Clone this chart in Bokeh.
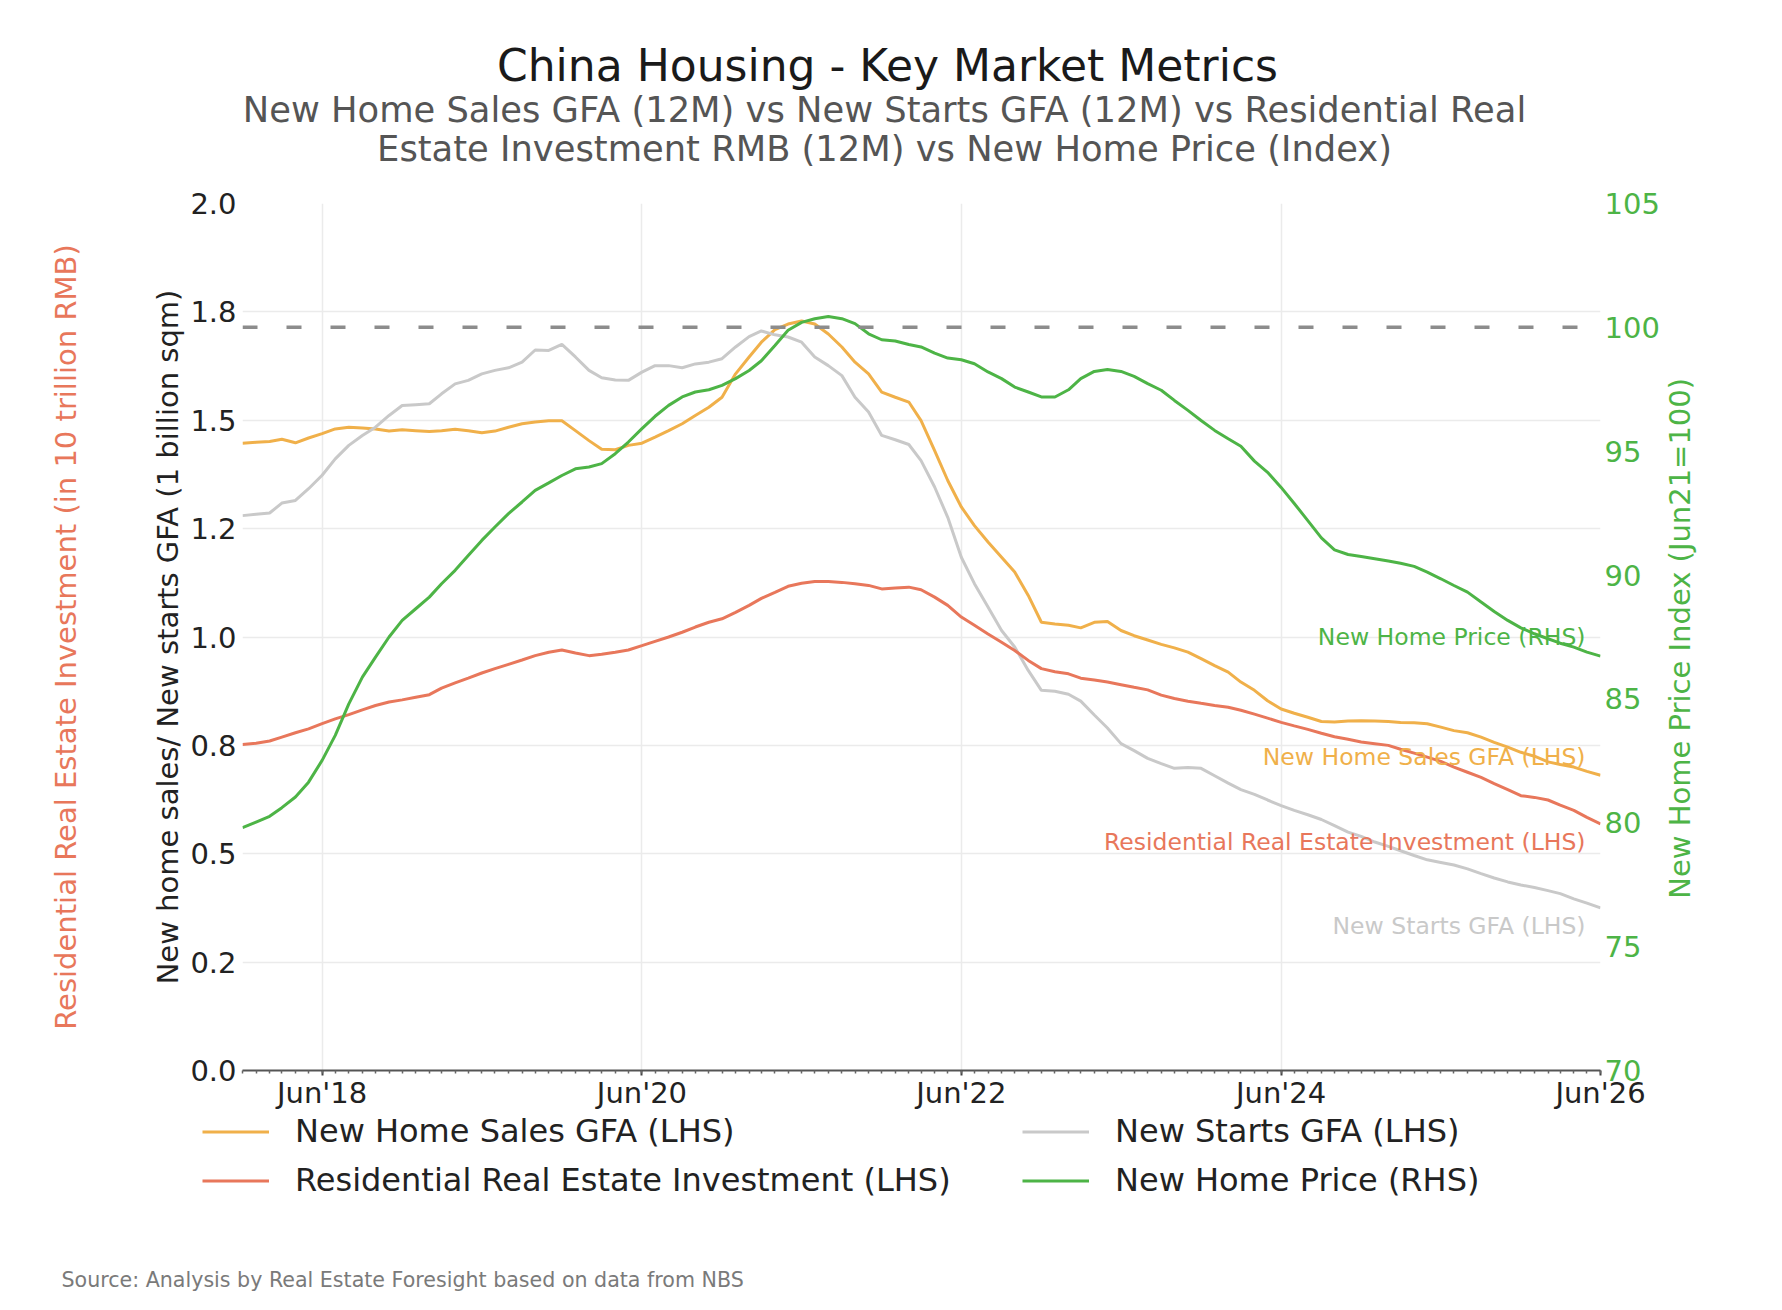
from math import pi
import pandas as pd
from bokeh.plotting import figure
from bokeh.layouts import column, row
from bokeh.models import (Range1d, LinearAxis, FixedTicker, DatetimeTickFormatter,
                          Label, Span, Legend, LegendItem, ColumnDataSource)
from bokeh.embed import file_html
from bokeh.resources import INLINE

# ---------------- data ----------------
months = list(pd.date_range("2017-12-01", "2026-06-01", freq="MS"))

new_home_sales_gfa = [
    1.447, 1.449, 1.451, 1.456, 1.448, 1.459, 1.469, 1.480, 1.484, 1.482,
    1.480, 1.475, 1.478, 1.476, 1.474, 1.476, 1.479, 1.476, 1.471, 1.475,
    1.484, 1.492, 1.496, 1.499, 1.499, 1.476, 1.453, 1.433, 1.432, 1.442,
    1.447, 1.461, 1.476, 1.492, 1.511, 1.530, 1.553, 1.607, 1.646, 1.680,
    1.709, 1.722, 1.729, 1.722, 1.699, 1.669, 1.634, 1.607, 1.565, 1.553,
    1.542, 1.499, 1.430, 1.361, 1.300, 1.257, 1.219, 1.184, 1.150, 1.096,
    1.034, 1.030, 1.027, 1.021, 1.034, 1.036, 1.015, 1.003, 0.993, 0.983,
    0.975, 0.965, 0.950, 0.934, 0.919, 0.896, 0.877, 0.853, 0.834, 0.824,
    0.815, 0.805, 0.804, 0.806, 0.807, 0.806, 0.805, 0.803, 0.802, 0.800,
    0.792, 0.784, 0.779, 0.769, 0.757, 0.746, 0.734, 0.725, 0.712, 0.706,
    0.700, 0.690, 0.681]

new_starts_gfa = [
    1.280, 1.283, 1.286, 1.309, 1.315, 1.342, 1.373, 1.411, 1.442, 1.465,
    1.484, 1.511, 1.534, 1.536, 1.538, 1.561, 1.584, 1.592, 1.607, 1.615,
    1.621, 1.634, 1.662, 1.661, 1.675, 1.646, 1.615, 1.598, 1.593, 1.592,
    1.611, 1.626, 1.626, 1.621, 1.630, 1.634, 1.642, 1.669, 1.693, 1.706,
    1.697, 1.692, 1.680, 1.646, 1.626, 1.603, 1.553, 1.519, 1.465, 1.455,
    1.444, 1.407, 1.346, 1.276, 1.184, 1.123, 1.069, 1.015, 0.977, 0.923,
    0.877, 0.875, 0.868, 0.852, 0.820, 0.790, 0.754, 0.738, 0.720, 0.708,
    0.697, 0.699, 0.697, 0.680, 0.663, 0.648, 0.637, 0.624, 0.611, 0.600,
    0.590, 0.579, 0.565, 0.550, 0.540, 0.527, 0.517, 0.507, 0.496, 0.486,
    0.480, 0.474, 0.465, 0.454, 0.444, 0.435, 0.428, 0.422, 0.415, 0.408,
    0.396, 0.386, 0.375]

residential_investment = [
    0.752, 0.755, 0.760, 0.769, 0.779, 0.788, 0.800, 0.811, 0.821, 0.832,
    0.842, 0.850, 0.855, 0.861, 0.867, 0.882, 0.894, 0.905, 0.917, 0.927,
    0.937, 0.947, 0.957, 0.965, 0.970, 0.963, 0.957, 0.960, 0.965, 0.970,
    0.980, 0.990, 1.000, 1.011, 1.023, 1.034, 1.042, 1.057, 1.073, 1.089,
    1.103, 1.117, 1.124, 1.128, 1.128, 1.126, 1.123, 1.119, 1.111, 1.113,
    1.115, 1.109, 1.092, 1.073, 1.046, 1.027, 1.007, 0.988, 0.969, 0.946,
    0.927, 0.920, 0.915, 0.905, 0.901, 0.896, 0.890, 0.884, 0.878, 0.866,
    0.858, 0.852, 0.847, 0.842, 0.838, 0.831, 0.822, 0.813, 0.803, 0.795,
    0.787, 0.778, 0.770, 0.764, 0.758, 0.754, 0.750, 0.741, 0.732, 0.723,
    0.713, 0.700, 0.688, 0.676, 0.662, 0.648, 0.634, 0.630, 0.624, 0.612,
    0.600, 0.584, 0.569]

new_home_price_index = [
    79.80, 80.03, 80.26, 80.61, 81.04, 81.64, 82.52, 83.53, 84.80, 85.88,
    86.69, 87.50, 88.17, 88.64, 89.11, 89.65, 90.19, 90.79, 91.40, 91.94,
    92.48, 92.95, 93.42, 93.72, 94.02, 94.29, 94.36, 94.50, 94.90, 95.37,
    95.91, 96.41, 96.85, 97.19, 97.39, 97.48, 97.66, 97.93, 98.26, 98.65,
    99.27, 99.88, 100.20, 100.35, 100.44, 100.35, 100.15, 99.74, 99.50, 99.45,
    99.31, 99.21, 98.96, 98.76, 98.69, 98.53, 98.20, 97.93, 97.59, 97.39,
    97.19, 97.19, 97.48, 97.93, 98.22, 98.30, 98.22, 98.02, 97.73, 97.46,
    97.05, 96.65, 96.24, 95.84, 95.50, 95.20, 94.60, 94.15, 93.54, 92.89,
    92.20, 91.50, 91.02, 90.83, 90.75, 90.66, 90.57, 90.48, 90.35, 90.12,
    89.85, 89.58, 89.31, 88.91, 88.53, 88.17, 87.87, 87.63, 87.43, 87.25,
    87.09, 86.89, 86.73]

left_ticks = [0.0, 0.25, 0.5, 0.75, 1.0, 1.25, 1.5, 1.75, 2.0]
left_tick_labels = ["0.0", "0.2", "0.5", "0.8", "1.0", "1.2", "1.5", "1.8", "2.0"]
right_ticks = [70, 75, 80, 85, 90, 95, 100, 105]
x_tick_years = [2018, 2020, 2022, 2024, 2026]
reference_level = 100

series_names = ["New Home Sales GFA (LHS)", "New Starts GFA (LHS)",
                "Residential Real Estate Investment (LHS)", "New Home Price (RHS)"]
title_text = "China Housing - Key Market Metrics"
subtitle_lines = ["New Home Sales GFA (12M) vs New Starts GFA (12M) vs Residential Real",
                  "Estate Investment RMB (12M) vs New Home Price (Index)"]
left_label = "New home sales/ New starts GFA (1 billion sqm)"
outer_left_label = "Residential Real Estate Investment (in 10 trillion RMB)"
right_label = "New Home Price Index (Jun21=100)"
source_text = "Source: Analysis by Real Estate Foresight based on data from NBS"

# ---------------- styles ----------------
FONT = "DejaVu Sans"
C_SALES = "#F0B04A"
C_STARTS = "#C9C9C9"
C_INV = "#E8775B"
C_PRICE = "#4DB446"
C_TEXT = "#222222"
TOTAL_W = 1780


def blank_fig(w, h):
    f = figure(width=w, height=h, x_range=Range1d(0, w), y_range=Range1d(0, h),
               x_axis_location=None, y_axis_location=None, min_border=0,
               output_backend="svg", toolbar_location=None)
    f.title_location = None
    f.grid.visible = False
    f.outline_line_color = None
    f.background_fill_color = "white"
    f.border_fill_color = "white"
    return f


def text(f, x, y, txt, size, color, align="center", baseline="alphabetic", angle=0.0):
    f.add_layout(Label(x=x, y=y, text=txt, text_align=align, text_baseline=baseline,
                       angle=angle, text_font=FONT, text_font_size=size, text_color=color))


# ---------------- title block ----------------
title_fig = blank_fig(TOTAL_W, 183)
text(title_fig, 887, 118, title_text, "44px", "#1A1A1A")
text(title_fig, 884, 74.5, subtitle_lines[0], "35.3px", "#555555")
text(title_fig, 884, 35.5, subtitle_lines[1], "35.3px", "#555555")

# ---------------- main chart ----------------
src = ColumnDataSource(dict(date=months, sales=new_home_sales_gfa, starts=new_starts_gfa,
                            inv=residential_investment, price=new_home_price_index))

p = figure(x_axis_type="datetime",
           x_range=Range1d(months[0], months[-1]),
           y_range=Range1d(0, 2),
           frame_width=1358, frame_height=867,
           min_border_left=242, min_border_right=60,
           min_border_top=20, min_border_bottom=40,
           output_backend="svg", toolbar_location=None)
p.title_location = None
p.outline_line_color = None
p.background_fill_color = "white"
p.border_fill_color = "white"
p.extra_y_ranges = {"right": Range1d(70, 105)}

major_ms = [pd.Timestamp(f"{y}-06-01").value / 1e6 for y in x_tick_years]
minor_ms = [m.value / 1e6 for m in months]
xa = p.xaxis[0]
xa.ticker = FixedTicker(ticks=major_ms, minor_ticks=minor_ms)
fmt = "%b'%y"
xa.formatter = DatetimeTickFormatter(years=fmt, months=fmt, days=fmt, hours=fmt,
                                     hourmin=fmt, minutes=fmt, minsec=fmt, seconds=fmt,
                                     milliseconds=fmt, microseconds=fmt)
xa.axis_line_color = "#555555"
xa.axis_line_width = 2
xa.major_tick_line_color = "#444444"
xa.major_tick_line_width = 2
xa.major_tick_out = 5
xa.major_tick_in = 0
xa.minor_tick_line_color = "#666666"
xa.minor_tick_line_width = 1.5
xa.minor_tick_out = 3
xa.minor_tick_in = 0
xa.major_label_standoff = 0
xa.major_label_text_font = FONT
xa.major_label_text_font_size = "29px"
xa.major_label_text_color = C_TEXT


def no_ticks(ax):
    ax.axis_line_color = None
    ax.major_tick_line_color = None
    ax.minor_tick_line_color = None
    ax.major_tick_out = 0
    ax.major_tick_in = 0
    ax.minor_tick_out = 0
    ax.minor_tick_in = 0


ya = p.yaxis[0]
ya.ticker = FixedTicker(ticks=left_ticks)
ya.major_label_overrides = {v: s for v, s in zip(left_ticks, left_tick_labels)}
no_ticks(ya)
ya.major_label_standoff = 6
ya.major_label_text_font = FONT
ya.major_label_text_font_size = "29px"
ya.major_label_text_color = C_TEXT
ya.axis_label = left_label
ya.axis_label_standoff = 2
ya.axis_label_text_font = FONT
ya.axis_label_text_font_size = "29px"
ya.axis_label_text_font_style = "normal"
ya.axis_label_text_color = C_TEXT

ya2 = LinearAxis(ticker=FixedTicker(ticks=[]), axis_label=outer_left_label)
no_ticks(ya2)
ya2.major_label_standoff = 0
ya2.axis_label_standoff = 66
ya2.axis_label_text_font = FONT
ya2.axis_label_text_font_size = "29px"
ya2.axis_label_text_font_style = "normal"
ya2.axis_label_text_color = C_INV
p.add_layout(ya2, "left")

ra = LinearAxis(y_range_name="right", ticker=FixedTicker(ticks=right_ticks))
no_ticks(ra)
ra.major_label_standoff = 4
ra.major_label_text_font = FONT
ra.major_label_text_font_size = "29px"
ra.major_label_text_color = C_PRICE
p.add_layout(ra, "right")

p.xgrid.grid_line_color = "#EBEBEB"
p.xgrid.grid_line_width = 1.5
p.ygrid.grid_line_color = "#EBEBEB"
p.ygrid.grid_line_width = 1.5

r_sales = p.line("date", "sales", source=src, line_color=C_SALES, line_width=3)
r_starts = p.line("date", "starts", source=src, line_color=C_STARTS, line_width=3)
r_inv = p.line("date", "inv", source=src, line_color=C_INV, line_width=3)
r_price = p.line("date", "price", source=src, line_color=C_PRICE, line_width=3,
                 y_range_name="right")

p.add_layout(Span(location=reference_level, dimension="width", y_range_name="right",
                  line_color="#8C8C8C", line_width=3.5, line_dash="15 29"))

ann_x = 1343
ann = [
    (series_names[3], new_home_price_index[-1] + 0.75, C_PRICE, "right"),
    (series_names[0], new_home_sales_gfa[-1] + 0.043, C_SALES, "default"),
    (series_names[2], residential_investment[-1] - 0.041, C_INV, "default"),
    (series_names[1], new_starts_gfa[-1] - 0.041, C_STARTS, "default"),
]
for txt, yv, col, rng in ann:
    p.add_layout(Label(x=ann_x, x_units="screen", y=yv, y_units="data", y_range_name=rng,
                       text=txt, text_align="right", text_baseline="alphabetic",
                       text_font=FONT, text_font_size="23.5px", text_color=col))

# ---------------- right axis title ----------------
MAIN_W = 242 + 1358 + 60
MAIN_H = 20 + 867 + 40
right_fig = blank_fig(TOTAL_W - MAIN_W, MAIN_H)
text(right_fig, 17.5, 461, right_label, "29px", C_PRICE, baseline="middle", angle=pi / 2)

# ---------------- legend + source ----------------
bottom_fig = blank_fig(TOTAL_W, 198)
# legend proxies: same series, drawn far outside this strip's pixel range
legend_renderers = {
    series_names[0]: bottom_fig.line("date", "sales", source=src, line_color=C_SALES, line_width=3),
    series_names[1]: bottom_fig.line("date", "starts", source=src, line_color=C_STARTS, line_width=3),
    series_names[2]: bottom_fig.line("date", "inv", source=src, line_color=C_INV, line_width=3),
    series_names[3]: bottom_fig.line("date", "price", source=src, line_color=C_PRICE, line_width=3),
}


def make_legend(names, loc):
    lg = Legend(items=[LegendItem(label=n, renderers=[legend_renderers[n]]) for n in names],
                location=loc, orientation="vertical",
                glyph_width=67, glyph_height=37, label_standoff=26, spacing=11,
                padding=0, margin=0, border_line_color=None, background_fill_alpha=0,
                label_text_font=FONT, label_text_font_size="32px",
                label_text_color=C_TEXT, label_text_baseline="middle")
    bottom_fig.add_layout(lg)


make_legend([series_names[0], series_names[2]], (202, 111))
make_legend([series_names[1], series_names[3]], (1022, 111))
text(bottom_fig, 61, 31, source_text, "20.6px", "#7A7A7A", align="left")

layout = column(title_fig, row(p, right_fig), bottom_fig)
open("out.html", "w").write(file_html(layout, INLINE))
